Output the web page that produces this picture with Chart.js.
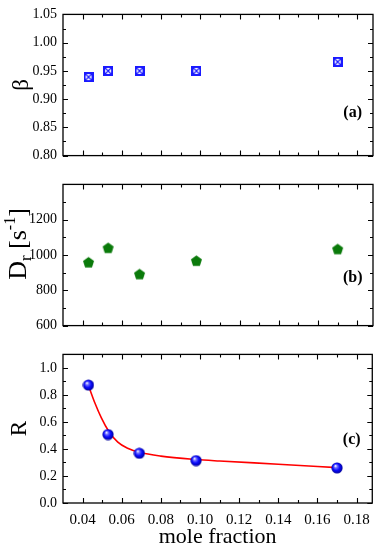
<!DOCTYPE html>
<html>
<head>
<meta charset="utf-8">
<script src="https://cdn.jsdelivr.net/npm/chart.js@4"></script>
<style>
body{margin:0;background:#fff;}
.panel{position:absolute;left:0;width:378px;}
</style>
</head>
<body>
<div class="panel" style="top:0;height:170px"><canvas id="chartA" width="378" height="170"></canvas></div>
<div class="panel" style="top:170px;height:170px"><canvas id="chartB" width="378" height="170"></canvas></div>
<div class="panel" style="top:340px;height:210px"><canvas id="chartC" width="378" height="210"></canvas></div>
<script>
// data
const moleFraction=[0.043,0.053,0.069,0.098,0.170];
const beta=[0.939,0.950,0.950,0.950,0.966];
const Dr=[959,1041,892,968,1034];
const Rval=[0.873,0.507,0.368,0.314,0.260];
// red fit curve in panel (c)
const fitX=[0.043,0.0463,0.0496,0.0532,0.058,0.063,0.069,0.080,0.098,0.110,0.140,0.170];
const fitR=[0.87,0.74,0.63,0.535,0.45,0.405,0.375,0.347,0.322,0.311,0.287,0.262];

// tick labels
const xLabels=[0.04,0.06,0.08,0.10,0.12,0.14,0.16,0.18];
const xMinor=[0.05,0.07,0.09,0.11,0.13,0.15,0.17];
const betaLabels=[0.80,0.85,0.90,0.95,1.00,1.05];
const betaMinor=[0.825,0.875,0.925,0.975,1.025];
const DrLabels=[600,800,1000,1200];
const DrMinor=[700,900,1100,1300];
const RLabels=[0.0,0.2,0.4,0.6,0.8,1.0];
const RMinor=[0.1,0.3,0.5,0.7,0.9];

const fam='"Liberation Serif","Times New Roman",serif';

function pts(ys){
return moleFraction.map((x,i)=>({x:x,y:ys[i]}));
}

function xsquare(){
let c=document.createElement('canvas');c.width=c.height=10;
let g=c.getContext('2d');
g.fillStyle='#1a1aff';g.fillRect(0,0,10,10);
g.fillStyle='#fff';g.fillRect(2,2,6,6);
g.strokeStyle='#1a1aff';g.lineWidth=1.2;
g.beginPath();g.moveTo(2,2);g.lineTo(8,8);g.moveTo(8,2);g.lineTo(2,8);g.stroke();
return c;
}

function pentagon(){
let c=document.createElement('canvas');c.width=c.height=13;
let g=c.getContext('2d');
g.fillStyle='#0a7a0a';
g.beginPath();
for(let i=0;i<5;i++){
let a=-Math.PI/2+i*2*Math.PI/5;
g.lineTo(6.5+5.8*Math.cos(a),7+5.8*Math.sin(a));
}
g.closePath();g.fill();
return c;
}

function sphere(){
let c=document.createElement('canvas');c.width=c.height=12;
let g=c.getContext('2d');
let gr=g.createRadialGradient(4.3,3.9,0.3,6,6,6);
gr.addColorStop(0,'#ffffff');
gr.addColorStop(0.22,'#7070ff');
gr.addColorStop(0.55,'#0a0aff');
gr.addColorStop(1,'#00008c');
g.fillStyle=gr;
g.beginPath();g.arc(6,6,5.6,0,Math.PI*2);g.fill();
return c;
}

// box with inward ticks on all sides + panel tag
function makeFrame(yMajor,yMinor,tag,tagX,tagY){
return {
id:'frame',
beforeDatasetsDraw(chart){
let ctx=chart.ctx,a=chart.chartArea,xs=chart.scales.x,ys=chart.scales.y;
ctx.save();
ctx.strokeStyle='#000';
ctx.lineWidth=1.3;
ctx.strokeRect(a.left,a.top,a.right-a.left,a.bottom-a.top);
ctx.lineWidth=1.1;
ctx.beginPath();
let tx=(list,len)=>list.forEach(v=>{
let p=Math.round(xs.getPixelForValue(v))+0.5;
ctx.moveTo(p,a.bottom);ctx.lineTo(p,a.bottom-len);
ctx.moveTo(p,a.top);ctx.lineTo(p,a.top+len);
});
let ty=(list,len)=>list.forEach(v=>{
let p=Math.round(ys.getPixelForValue(v))+0.5;
ctx.moveTo(a.left,p);ctx.lineTo(a.left+len,p);
ctx.moveTo(a.right,p);ctx.lineTo(a.right-len,p);
});
tx(xLabels,5);tx(xMinor,3);
ty(yMajor,5);ty(yMinor,3);
ctx.stroke();
ctx.fillStyle='#000';
ctx.font='bold 16px '+fam;
ctx.textAlign='center';ctx.textBaseline='middle';
ctx.fillText(tag,tagX,tagY);
ctx.restore();
}
};
}

// D_r [s^-1] axis title with sub/superscript
const drTitle={
id:'drTitle',
afterDraw(chart){
let ctx=chart.ctx;
let parts=[["D",26,0],["r",17,5],[" [s",26,0],["-1",16,-11],["]",26,0]];
ctx.save();
ctx.fillStyle='#000';
let w=0;
parts.forEach(p=>{ctx.font=p[1]+'px '+fam;w+=ctx.measureText(p[0]).width;});
ctx.translate(17,74);
ctx.rotate(-Math.PI/2);
ctx.textBaseline='alphabetic';ctx.textAlign='left';
let x=-w/2;
parts.forEach(p=>{
ctx.font=p[1]+'px '+fam;
ctx.fillText(p[0],x,8.5+p[2]);
x+=ctx.measureText(p[0]).width;
});
ctx.restore();
}
};

function yAxis(min,max,labels,fmt,title,titlePad){
return {
type:'linear',min:min,max:max,
afterBuildTicks:s=>{s.ticks=labels.map(v=>({value:v}));},
afterFit:s=>{s.width=63;},
grid:{display:false,drawTicks:false},
border:{display:false},
ticks:{padding:6,color:'#000',font:{family:fam,size:14},callback:fmt},
title:{display:!!title,text:title,color:'#000',font:{family:fam,size:23},padding:{top:titlePad}}
};
}

const hiddenX={type:'linear',min:0.03,max:0.188,display:false};

const baseOpts={
responsive:false,
animation:false,
plugins:{legend:{display:false},tooltip:{enabled:false}}
};

new Chart(document.getElementById('chartA'),{
type:'scatter',
data:{datasets:[{data:pts(beta),pointStyle:xsquare(),pointRadius:5}]},
options:Object.assign({},baseOpts,{
layout:{autoPadding:false,padding:{top:13,bottom:8,right:5,left:0}},
scales:{x:hiddenX,y:yAxis(0.8,1.05,betaLabels,v=>v.toFixed(2),'β',8)}
}),
plugins:[makeFrame(betaLabels,betaMinor,'(a)',352.7,113)]
});

new Chart(document.getElementById('chartB'),{
type:'scatter',
data:{datasets:[{data:pts(Dr),pointStyle:pentagon(),pointRadius:5}]},
options:Object.assign({},baseOpts,{
layout:{autoPadding:false,padding:{top:10,bottom:10,right:5,left:0}},
scales:{x:hiddenX,y:yAxis(600,1400,DrLabels,v=>String(v),'',0)}
}),
plugins:[makeFrame(DrLabels,DrMinor,'(b)',352.7,108),drTitle]
});

new Chart(document.getElementById('chartC'),{
type:'scatter',
data:{datasets:[
{data:pts(Rval),pointStyle:sphere(),pointRadius:5},
{data:fitX.map((x,i)=>({x:x,y:fitR[i]})),showLine:true,pointRadius:0,borderColor:'#ff0000',borderWidth:1.6,cubicInterpolationMode:'monotone'}
]},
options:Object.assign({},baseOpts,{
layout:{autoPadding:false,padding:{top:13,bottom:0,right:5,left:0}},
scales:{
x:{
type:'linear',min:0.03,max:0.188,
afterBuildTicks:s=>{s.ticks=xLabels.map(v=>({value:v}));},
afterFit:s=>{s.height=47;},
grid:{display:false,drawTicks:false},
border:{display:false},
ticks:{padding:8,maxRotation:0,autoSkip:false,color:'#000',font:{family:fam,size:15},callback:v=>v.toFixed(2)},
title:{display:true,text:'mole fraction',color:'#000',font:{family:fam,size:22},padding:{top:0,bottom:0}}
},
y:yAxis(0,1.1,RLabels,v=>v.toFixed(1),'R',6)
}
}),
plugins:[makeFrame(RLabels,RMinor,'(c)',351.7,100)]
});
</script>
</body>
</html>
